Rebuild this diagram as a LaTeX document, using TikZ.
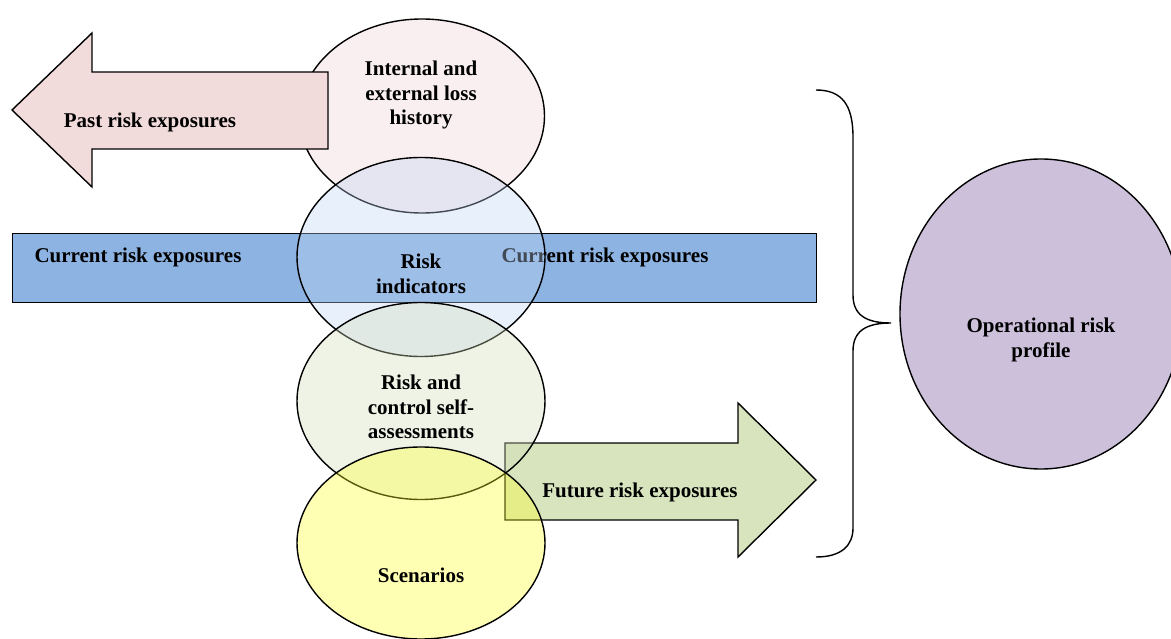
\documentclass[tikz,border=0pt]{standalone}
\usepackage{fontspec}
\setmainfont{Liberation Serif}
\usetikzlibrary{shapes.geometric}
\definecolor{pastfill}{RGB}{242,220,219}
\definecolor{barfill}{RGB}{141,179,226}
\definecolor{futfill}{RGB}{215,228,189}
\definecolor{ovalA}{RGB}{238,209,212}
\definecolor{ovalB}{RGB}{189,211,243}
\definecolor{ovalC}{RGB}{209,221,184}
\definecolor{ovalD}{RGB}{255,255,38}
\definecolor{opfill}{RGB}{204,192,218}
\begin{document}
\begin{tikzpicture}[x=1pt,y=-1pt,
  lbl/.style={font=\fontsize{21}{24.5}\selectfont\bfseries, align=center, inner sep=0pt},
  oval/.style={ellipse, draw=black, line width=1.4pt, fill opacity=0.35, inner sep=0pt},
  shp/.style={draw=black, line width=1.4pt, line join=miter}]
\useasboundingbox (0,0) rectangle (1171,639);
% current bar
\node[shp, fill=barfill, rectangle, minimum width=804, minimum height=69, anchor=north west, inner sep=0pt] (bar) at (12,233) {};
\node[lbl] (curL) at (138,257) {Current risk exposures};
\node[lbl] (curR) at (605,257) {Current risk exposures};
% future arrow
\draw[shp, fill=futfill] (505,443) -- (738,443) -- (738,403) -- (816,480) -- (738,557) -- (738,520) -- (505,520) -- cycle;
% ovals
\node[oval, fill=ovalA, minimum width=245, minimum height=194] (e1) at (422,116) {};
\node[oval, fill=ovalB, minimum width=248, minimum height=199] (e2) at (421,257) {};
\node[oval, fill=ovalC, minimum width=248, minimum height=197] (e3) at (421,401) {};
\node[oval, fill=ovalD, minimum width=248, minimum height=192] (e4) at (421,543) {};
% past arrow
\draw[shp, fill=pastfill] (328,72) -- (92,72) -- (92,33) -- (12,110) -- (92,187) -- (92,149) -- (328,149) -- cycle;
\node[lbl] (past) at (150,122) {Past risk exposures};
% labels
\node[lbl] (t1) at (421,95) {Internal and\\external loss\\history};
\node[lbl] (t2) at (421,274) {Risk\\indicators};
\node[lbl] (t3) at (421,407) {Risk and\\control self-\\assessments};
\node[lbl] (t4) at (421,575) {Scenarios};
\node[lbl] (fut) at (640,492) {Future risk exposures};
% brace
\draw[line width=1.4pt] (816,90) .. controls (842,90) and (853,105) .. (853,137) -- (853,295) .. controls (853,315) and (866,323) .. (891,323) .. controls (866,323) and (853,331) .. (853,351) -- (853,528) .. controls (853,545) and (842,557) .. (816,557);
% operational risk profile
\begin{scope}
\clip (0,0) rectangle (1171,639);
\node[ellipse, draw=black, line width=1.4pt, fill=opfill, minimum width=282, minimum height=310, inner sep=0pt] (op) at (1041,314) {};
\end{scope}
\node[lbl] (opt) at (1041,340) {Operational risk\\profile};
\end{tikzpicture}
\end{document}
